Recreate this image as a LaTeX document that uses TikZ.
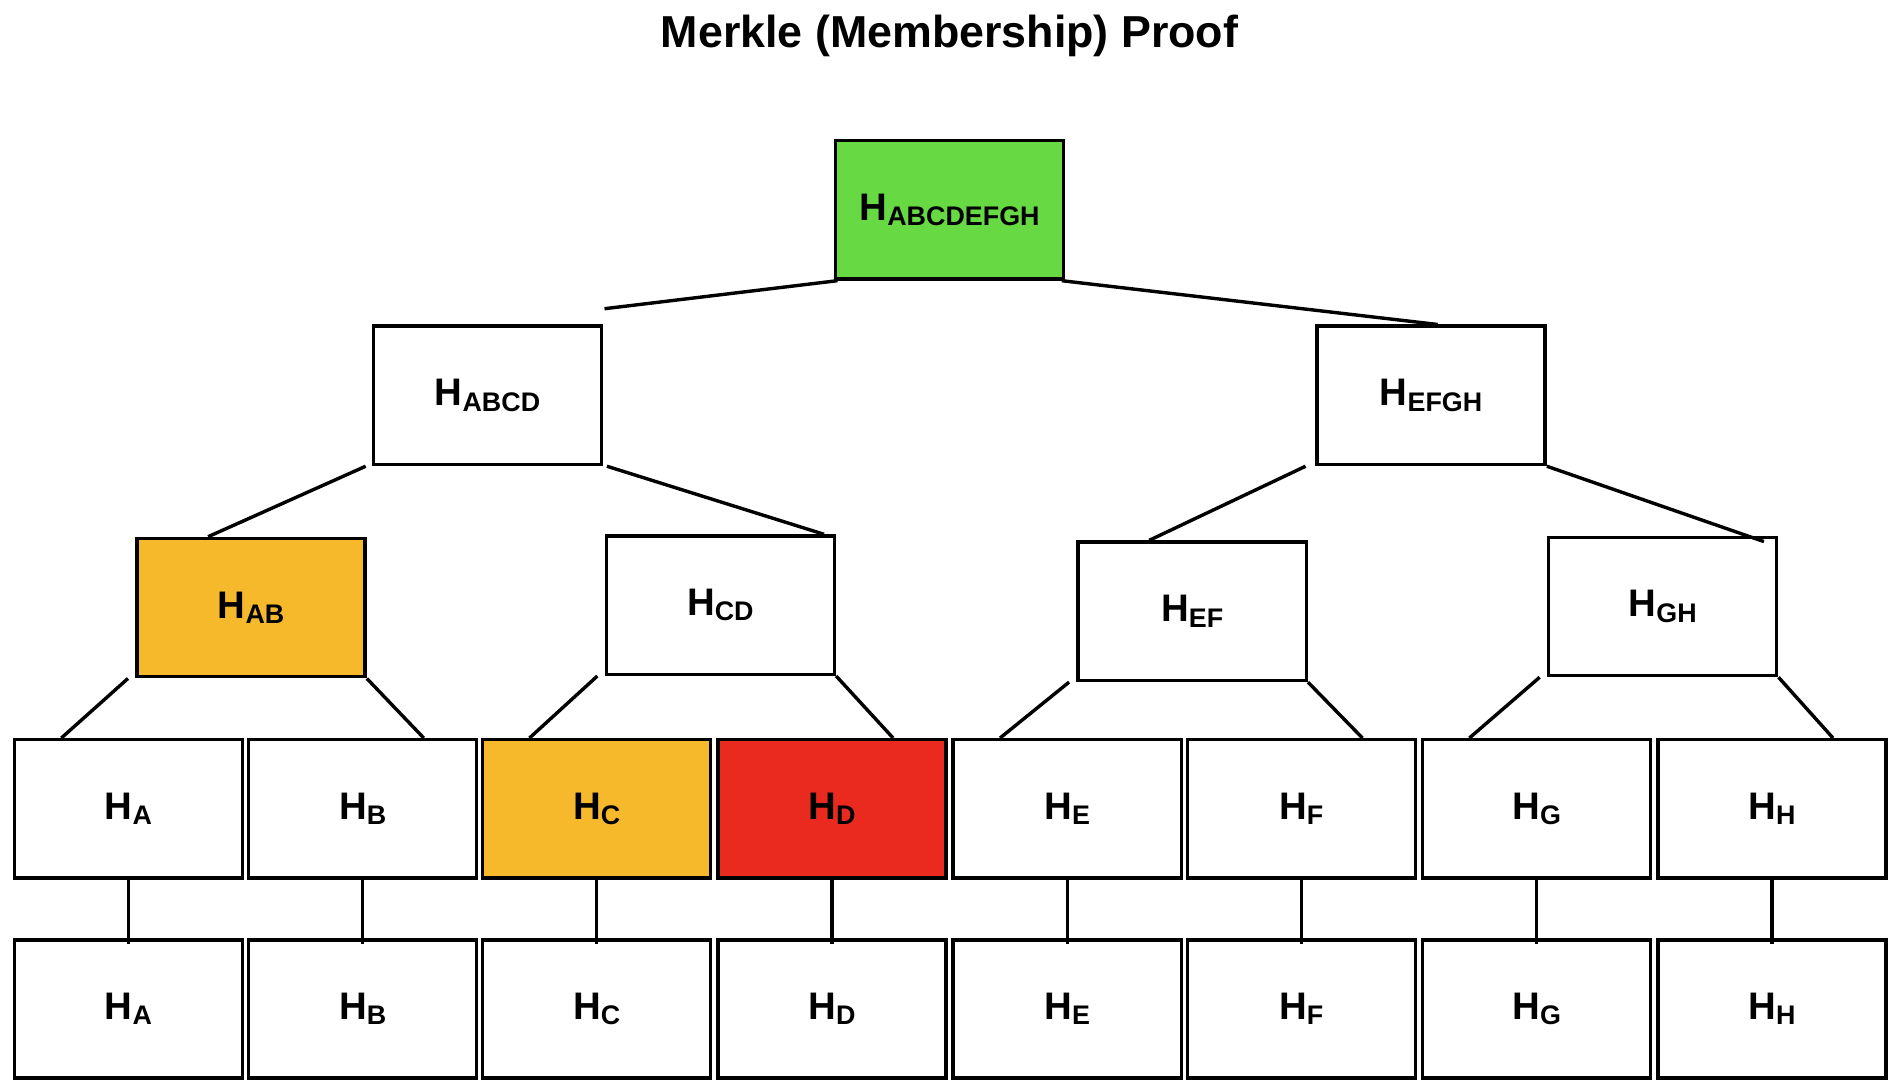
\documentclass[tikz,border=0pt]{standalone}
\usepackage{fontspec}
\setmainfont{Liberation Sans}
\usetikzlibrary{positioning}
\definecolor{rootgreen}{HTML}{66D943}
\definecolor{proofgold}{HTML}{F6B92B}
\definecolor{leafred}{HTML}{EA2A1F}
\newcommand{\hash}[1]{\bfseries H{\fontsize{6.3}{7}\selectfont\raisebox{-1.2pt}{#1}}}

\begin{document}
\begin{tikzpicture}[x=0.01cm, y=-0.01cm, hbox/.style={draw, line width=0.8pt, minimum width=1.88cm, minimum height=1.14cm, font=\fontsize{9}{10}\selectfont, inner sep=0pt}, link/.style={line width=0.8pt}]
        \useasboundingbox (0,0) rectangle (1565,900);
        \node[font=\fontsize{10.5}{12}\selectfont\bfseries] (title) at (783,30) {Merkle (Membership) Proof};

        \node[hbox, fill=rootgreen] (hroot) at (783,173) {\hash{ABCDEFGH}};
        \node[hbox] (habcd) at (402,326) {\hash{ABCD}};
        \node[hbox] (hefgh) at (1180,326) {\hash{EFGH}};
        \node[hbox, fill=proofgold] (hab) at (207,501) {\hash{AB}};
        \node[hbox] (hcd) at (594,499) {\hash{CD}};
        \node[hbox] (hef) at (983,504) {\hash{EF}};
        \node[hbox] (hgh) at (1371,500) {\hash{GH}};

        \node[hbox] (ha) at (106,667) {\hash{A}};
        \node[hbox] (hb) at (299,667) {\hash{B}};
        \node[hbox, fill=proofgold] (hc) at (492,667) {\hash{C}};
        \node[hbox, fill=leafred] (hd) at (686,667) {\hash{D}};
        \node[hbox] (he) at (880,667) {\hash{E}};
        \node[hbox] (hf) at (1073,667) {\hash{F}};
        \node[hbox] (hg) at (1267,667) {\hash{G}};
        \node[hbox] (hh) at (1461,667) {\hash{H}};

        \node[hbox] (ba) at (106,832) {\hash{A}};
        \node[hbox] (bb) at (299,832) {\hash{B}};
        \node[hbox] (bc) at (492,832) {\hash{C}};
        \node[hbox] (bd) at (686,832) {\hash{D}};
        \node[hbox] (be) at (880,832) {\hash{E}};
        \node[hbox] (bf) at (1073,832) {\hash{F}};
        \node[hbox] (bg) at (1267,832) {\hash{G}};
        \node[hbox] (bh) at (1461,832) {\hash{H}};

        \draw[link] ([xshift=0.03cm]hroot.south west) -- ([xshift=0.01cm,yshift=0.13cm]habcd.north east);
        \draw[link] ([xshift=-0.03cm]hroot.south east) -- ([xshift=-0.9cm]hefgh.north east);
        \draw[link] ([xshift=-0.05cm]habcd.south west) -- ([xshift=0.6cm]hab.north west);
        \draw[link] ([xshift=0.03cm]habcd.south east) -- ([xshift=-0.1cm]hcd.north east);
        \draw[link] ([xshift=-0.08cm]hefgh.south west) -- ([xshift=0.6cm]hef.north west);
        \draw[link] (hefgh.south east) -- ([xshift=-0.12cm,yshift=-0.05cm]hgh.north east);
        \foreach \up/\l/\r in {hab/ha/hb, hcd/hc/hd, hef/he/hf, hgh/hg/hh}{
            \draw[link] ([xshift=-0.06cm]\up.south west) -- ([xshift=0.4cm]\l.north west);
            \draw[link] (\up.south east) -- ([xshift=-0.45cm]\r.north east);
        }
        \foreach \t/\b in {ha/ba, hb/bb, hc/bc, hd/bd, he/be, hf/bf, hg/bg, hh/bh}
            \draw[link] (\t.south) -- ([yshift=-0.05cm]\b.north);
\end{tikzpicture}
\end{document}
